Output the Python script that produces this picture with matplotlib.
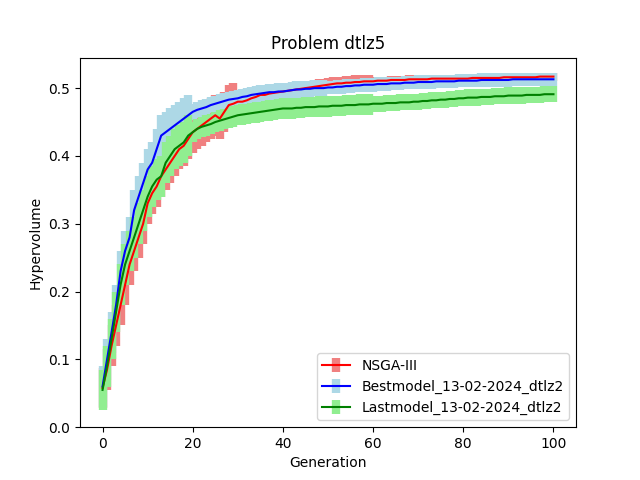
import matplotlib
matplotlib.use("Agg")
import matplotlib.pyplot as plt
import numpy as np

gens = list(range(101))
nsga = [.058,.085,.12,.15,.18,.21,.24,.26,.28,.30,
        .33,.345,.355,.37,.38,.39,.40,.41,.415,.425,
        .435,.44,.445,.45,.455,.46,.455,.465,.475,.477,
        .48,.48,.482,.485,.487,.49,.49,.492,.493,.494,
        .495,.496,.497,.498,.499,.5,.501,.502,.503,.504,
        .505,.506,.507,.507,.508,.508,.509,.509,.51,.51,
        .51,.511,.511,.511,.512,.512,.512,.512,.513,.513,
        .513,.513,.513,.514,.514,.514,.514,.514,.514,.514,
        .514,.514,.515,.515,.515,.515,.515,.515,.515,.516,
        .516,.516,.516,.516,.516,.516,.516,.517,.517,.517,.517]
best = [.06,.10,.14,.18,.23,.26,.28,.32,.34,.36,
        .38,.39,.41,.43,.435,.44,.445,.45,.455,.46,
        .465,.468,.47,.472,.475,.477,.479,.481,.483,.484,
        .485,.487,.488,.49,.491,.492,.493,.494,.494,.495,
        .495,.496,.497,.498,.498,.499,.499,.5,.5,.5,
        .501,.501,.502,.502,.503,.503,.504,.504,.505,.505,
        .505,.506,.506,.506,.507,.507,.507,.508,.508,.508,
        .509,.509,.509,.509,.51,.51,.51,.51,.51,.511,
        .511,.511,.511,.511,.512,.512,.512,.512,.512,.512,
        .512,.513,.513,.513,.513,.513,.513,.513,.513,.513,.513]
last = [.055,.09,.13,.17,.21,.24,.26,.28,.30,.32,
        .34,.355,.365,.37,.39,.40,.41,.415,.42,.43,
        .435,.44,.443,.445,.447,.45,.452,.454,.456,.458,
        .46,.461,.462,.463,.464,.465,.466,.467,.468,.469,
        .47,.47,.47,.471,.471,.472,.472,.472,.473,.473,
        .473,.474,.474,.474,.475,.475,.475,.476,.476,.476,
        .477,.477,.477,.478,.478,.478,.479,.479,.479,.48,
        .48,.481,.481,.482,.482,.483,.483,.484,.484,.485,
        .485,.486,.486,.486,.487,.487,.487,.488,.488,.488,
        .489,.489,.489,.489,.49,.49,.49,.49,.491,.491,.491]
nsga_err = [0.03]*30 + [0.01]*30 + [0.006]*41
best_err = [0.03]*20 + [0.012]*30 + [0.01]*51
last_err = [0.03]*20 + [0.015]*40 + [0.012]*41

fig, ax = plt.subplots(figsize=(6.4, 4.8), dpi=100)
series = [("NSGA-III", nsga, nsga_err, "red", "lightcoral"),
          ("Bestmodel_13-02-2024_dtlz2", best, best_err, "blue", "lightblue"),
          ("Lastmodel_13-02-2024_dtlz2", last, last_err, "green", "lightgreen")]
for name, y, e, c, ec in series:
    ax.errorbar(gens, y, yerr=e, color=c, ecolor=ec, elinewidth=6, capsize=0, label=name)
ax.set_ylim(0, 0.545)
ax.set_title("Problem dtlz5")
ax.set_xlabel("Generation")
ax.set_ylabel("Hypervolume")
ax.legend(loc="lower right")
fig.savefig("out.png")
